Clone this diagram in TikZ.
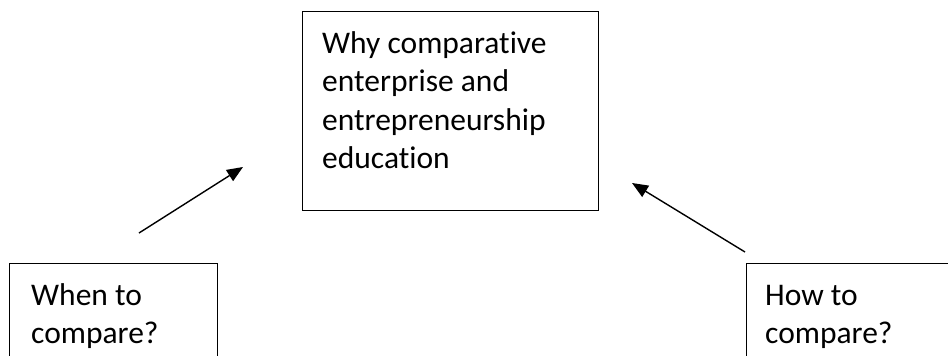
\documentclass[tikz,border=0pt]{standalone}
\usepackage{fontspec}
\setmainfont[RawFeature={-liga}]{Carlito}
\usetikzlibrary{arrows.meta}
\tikzset{
  box/.style={draw=black, line width=1.2pt, rectangle, inner sep=0pt, anchor=north west},
  txt/.style={anchor=base west, inner sep=0pt, font=\fontsize{31.5}{38.4}\selectfont},
  conn/.style={line width=1.4pt, -{Triangle[length=16pt,width=13pt]}}
}
\begin{document}
\begin{tikzpicture}[x=1pt,y=-1pt]
\useasboundingbox (0,0) rectangle (948,356);
\fill[white] (0,0) rectangle (948,356);
% boxes
\node[box, minimum width=296pt, minimum height=199pt] (top) at (302,11) {};
\node[box, minimum width=208pt, minimum height=93pt] (left) at (9,263) {};
\node[box, minimum width=210pt, minimum height=93pt] (right) at (746,263) {};
% texts
\node[txt] (t1) at (322,53) {Why comparative};
\node[txt] (t2) at (322,91.5) {enterprise and};
\node[txt] (t3) at (322,130) {entrepreneurship};
\node[txt] (t4) at (322,168.5) {education};
\node[txt] (l1) at (31,305) {When to};
\node[txt] (l2) at (31,343) {compare?};
\node[txt] (r1) at (765,305) {How to};
\node[txt] (r2) at (765,343) {compare?};
% connectors
\coordinate (la) at (139,233);
\coordinate (lb) at (243,167);
\coordinate (ra) at (745,252);
\coordinate (rb) at (632,183);
\draw[conn] (la) -- (lb);
\draw[conn] (ra) -- (rb);
\end{tikzpicture}
\end{document}
